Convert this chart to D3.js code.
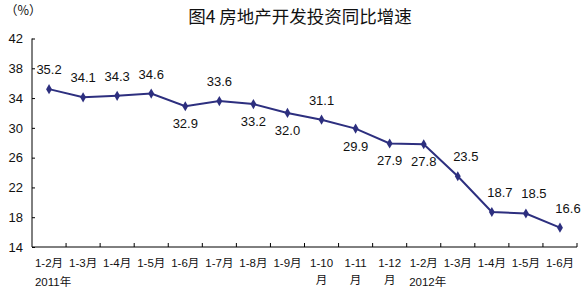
<!DOCTYPE html>
<html>
<head>
<meta charset="utf-8">
<script src="https://cdn.jsdelivr.net/npm/d3@7"></script>
<style>
  body { margin: 0; background: #fff; }
  text { font-family: "Liberation Sans", Arial, "Noto Sans CJK SC", sans-serif; fill: #111; }
</style>
</head>
<body>
<div id="chart"></div>
<script>
// months (cumulative from january), split into two lines where the label wraps
var months = ["1-2月", "1-3月", "1-4月", "1-5月", "1-6月", "1-7月", "1-8月", "1-9月",
  "1-10|月", "1-11|月", "1-12|月", "1-2月", "1-3月", "1-4月", "1-5月", "1-6月"];
var growth = [35.2, 34.1, 34.3, 34.6, 32.9, 33.6, 33.2, 32.0, 31.1, 29.9, 27.9, 27.8, 23.5, 18.7, 18.5, 16.6];
// which side of the point the value sits on
var labelSide = ["up", "up", "up", "up", "down", "up", "down", "down", "up", "down", "down", "down", "up", "up", "up", "up"];
var yTicks = [14, 18, 22, 26, 30, 34, 38, 42];
var years = [{ idx: 0, text: "2011年" }, { idx: 11, text: "2012年" }];

var W = 584, H = 295;
var margin = { top: 38.5, right: 7, bottom: 48, left: 32 };
var width = W - margin.left - margin.right,
    height = H - margin.top - margin.bottom;

var svg = d3.select("#chart").append("svg")
    .attr("width", W)
    .attr("height", H)
    .style("font-family", "'Liberation Sans', Arial, 'Noto Sans CJK SC', sans-serif");

svg.append("text")
    .attr("x", 300)
    .attr("y", 23)
    .attr("text-anchor", "middle")
    .style("font-family", "'Noto Sans CJK SC', sans-serif")
    .style("font-size", "17.5px")
    .style("font-weight", "normal")
    .text("图4  房地产开发投资同比增速");

svg.append("text")
    .attr("x", 5)
    .attr("y", 15)
    .style("font-family", "'Noto Sans CJK SC', sans-serif")
    .style("font-size", "12.5px")
    .text("（%）");

var g = svg.append("g")
    .attr("transform", "translate(" + margin.left + "," + margin.top + ")");

var x = d3.scaleBand()
    .domain(d3.range(months.length))
    .range([0, width]);

var y = d3.scaleLinear()
    .domain([14, 42])
    .range([height, 0]);

// y axis: ticks point inward
var yAxis = d3.axisRight(y)
    .tickValues(yTicks)
    .tickSize(3)
    .tickFormat(d3.format("d"));

var gy = g.append("g").call(yAxis);
gy.select(".domain").attr("stroke", "#000").attr("d", "M0,0V" + height);
gy.selectAll(".tick line").attr("stroke", "#000");
gy.selectAll(".tick text")
    .attr("x", -9)
    .attr("text-anchor", "end")
    .style("font-size", "13px");

// x axis with ticks at category boundaries
var gx = g.append("g")
    .attr("transform", "translate(0," + height + ")");
gx.append("line")
    .attr("x1", 0).attr("x2", width)
    .attr("stroke", "#000");
gx.selectAll(".xt")
    .data(d3.range(1, months.length + 1))
    .enter().append("line")
    .attr("class", "xt")
    .attr("x1", function(d) { return d < months.length ? x(d) : width; })
    .attr("x2", function(d) { return d < months.length ? x(d) : width; })
    .attr("y1", 0).attr("y2", -4)
    .attr("stroke", "#000");

var cx = function(i) { return x(i) + x.bandwidth() / 2; };

var lab = gx.selectAll(".xl")
    .data(months)
    .enter().append("text")
    .attr("class", "xl")
    .attr("text-anchor", "middle")
    .style("font-size", "11.5px");
lab.each(function(d, i) {
    var parts = d.split("|");
    var t = d3.select(this);
    parts.forEach(function(p, k) {
        t.append("tspan")
            .attr("x", cx(i))
            .attr("y", 20 + k * 17)
            .text(p);
    });
});

gx.selectAll(".yr")
    .data(years)
    .enter().append("text")
    .attr("class", "yr")
    .attr("x", function(d) { return cx(d.idx) + 4; })
    .attr("y", 39)
    .attr("text-anchor", "middle")
    .style("font-size", "11.5px")
    .text(function(d) { return d.text; });

var line = d3.line()
    .x(function(d, i) { return cx(i); })
    .y(function(d) { return y(d); });

g.append("path")
    .datum(growth)
    .attr("fill", "none")
    .attr("stroke", "#2d2f7f")
    .attr("stroke-width", 2)
    .attr("d", line);

g.selectAll(".pt")
    .data(growth)
    .enter().append("path")
    .attr("class", "pt")
    .attr("d", d3.symbol().type(d3.symbolDiamond).size(30))
    .attr("transform", function(d, i) { return "translate(" + cx(i) + "," + y(d) + ")"; })
    .attr("fill", "#2d2f7f");

g.selectAll(".val")
    .data(growth)
    .enter().append("text")
    .attr("class", "val")
    .attr("x", function(d, i) { return cx(i) + (i >= 12 ? 8 : 0); })
    .attr("y", function(d, i) { return y(d) + (labelSide[i] == "up" ? -15 : 22); })
    .attr("text-anchor", "middle")
    .style("font-size", "13px")
    .text(function(d) { return d3.format(".1f")(d); });
</script>
</body>
</html>
